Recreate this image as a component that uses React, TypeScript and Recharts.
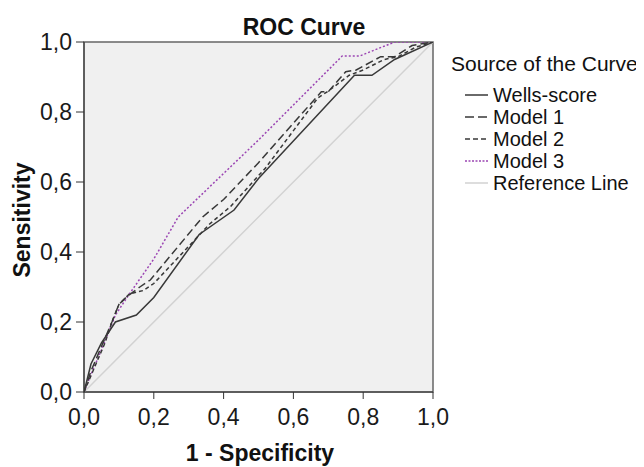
import React from 'react';
import { LineChart, Line, XAxis, YAxis, ReferenceArea, Legend } from 'recharts';

// ---- data ----
const axisTicks = [0, 0.2, 0.4, 0.6, 0.8, 1.0];

const wellsFpr = [0, 0.02, 0.05, 0.09, 0.15, 0.2, 0.33, 0.43, 0.5, 0.775, 0.825, 0.89, 1];
const wellsTpr = [0, 0.08, 0.14, 0.2, 0.22, 0.27, 0.45, 0.52, 0.61, 0.905, 0.905, 0.95, 1];

const model1Fpr = [0, 0.02, 0.05, 0.08, 0.1, 0.12, 0.16, 0.19, 0.34, 0.4, 0.5, 0.68, 0.7, 0.75, 0.78, 0.85, 0.89, 0.94, 1];
const model1Tpr = [0, 0.06, 0.13, 0.2, 0.25, 0.27, 0.3, 0.32, 0.5, 0.55, 0.655, 0.858, 0.858, 0.915, 0.92, 0.958, 0.958, 0.99, 1];

const model2Fpr = [0, 0.03, 0.06, 0.08, 0.1, 0.13, 0.17, 0.2, 0.36, 0.42, 0.52, 0.67, 0.7, 0.76, 0.8, 0.86, 0.9, 0.95, 1];
const model2Tpr = [0, 0.07, 0.14, 0.2, 0.25, 0.28, 0.29, 0.31, 0.48, 0.53, 0.64, 0.84, 0.86, 0.905, 0.92, 0.95, 0.958, 0.985, 1];

const model3Fpr = [0, 0.02, 0.05, 0.09, 0.13, 0.2, 0.27, 0.5, 0.74, 0.79, 0.89, 1];
const model3Tpr = [0, 0.05, 0.12, 0.22, 0.28, 0.38, 0.5, 0.72, 0.96, 0.96, 1, 1];

const referenceFpr = [0, 1];
const referenceTpr = [0, 1];

const seriesNames = ['Wells-score', 'Model 1', 'Model 2', 'Model 3', 'Reference Line'];

// ---- helpers ----
const toPoints = (xs: number[], ys: number[]) => xs.map((x, i) => ({ fpr: x, tpr: ys[i] }));
const fmt = (v: number) => v.toFixed(1).replace('.', ',');
const FONT = '"Liberation Sans", Arial, Helvetica, sans-serif';

const series = [
  { name: seriesNames[0], data: toPoints(wellsFpr, wellsTpr), stroke: '#383838', dash: undefined as string | undefined, width: 1.5 },
  { name: seriesNames[1], data: toPoints(model1Fpr, model1Tpr), stroke: '#383838', dash: '8 4', width: 1.5 },
  { name: seriesNames[2], data: toPoints(model2Fpr, model2Tpr), stroke: '#383838', dash: '4 3', width: 1.5 },
  { name: seriesNames[3], data: toPoints(model3Fpr, model3Tpr), stroke: '#9b45b3', dash: '2 2', width: 1.5 },
  { name: seriesNames[4], data: toPoints(referenceFpr, referenceTpr), stroke: '#d2d2d2', dash: undefined as string | undefined, width: 1.5 },
];

const legendDash = ['', '9 4', '5 3', '2 1.5', ''];

const LegendBox = () => (
  <svg width={195} height={160} style={{ display: 'block' }}>
    <text x={2} y={23} fontSize={21} fontFamily={FONT} fill="#111">Source of the Curve</text>
    {series.map((s, i) => {
      const cy = 47 + i * 22;
      return (
        <g key={s.name}>
          <line x1={16} x2={39} y1={cy} y2={cy} stroke={s.stroke} strokeWidth={1.5}
            strokeDasharray={legendDash[i] || undefined} />
          <text x={44} y={cy + 7} fontSize={20} fontFamily={FONT} fill="#111">{s.name}</text>
        </g>
      );
    })}
  </svg>
);

export default function App() {
  return (
    <LineChart width={636} height={459} margin={{ top: 34, right: 211, bottom: 35, left: 0 }}>
      <XAxis dataKey="fpr" type="number" domain={[0, 1]} ticks={axisTicks} tickFormatter={fmt}
        allowDataOverflow height={40} tickSize={7} tickMargin={10}
        tick={{ fontSize: 23, fill: '#1a1a1a', fontFamily: FONT }}
        axisLine={{ stroke: '#333' }} tickLine={{ stroke: '#333' }} />
      <YAxis dataKey="tpr" type="number" domain={[0, 1]} ticks={axisTicks} tickFormatter={fmt}
        allowDataOverflow width={76} tickSize={8} tickMargin={4}
        tick={{ fontSize: 23, fill: '#1a1a1a', fontFamily: FONT }}
        axisLine={{ stroke: '#333' }} tickLine={{ stroke: '#333' }} />
      <ReferenceArea x1={0} x2={1} y1={0} y2={1} fill="#f0f0f0" fillOpacity={1} stroke="#666" strokeWidth={1.5} />
      {series.slice().reverse().map((s) => (
        <Line key={s.name} data={s.data} dataKey="tpr" name={s.name} type="linear" dot={false}
          activeDot={false} isAnimationActive={false} stroke={s.stroke} strokeWidth={s.width}
          strokeDasharray={s.dash} legendType="none" />
      ))}
      <Legend layout="vertical" align="center" verticalAlign="middle"
        wrapperStyle={{ left: 441, top: 40, width: 195, height: 160 }}
        content={() => <LegendBox />} />
      <text x={296} y={27} textAnchor="middle" fontSize={23} fontWeight="bold" fontFamily={FONT} fill="#111">ROC Curve</text>
      <text x={252} y={453} textAnchor="middle" fontSize={23} fontWeight="bold" fontFamily={FONT} fill="#111">1 - Specificity</text>
      <text x={22} y={212} transform="rotate(-90 22 212)" textAnchor="middle" fontSize={23} fontWeight="bold" fontFamily={FONT} fill="#111">Sensitivity</text>
    </LineChart>
  );
}
